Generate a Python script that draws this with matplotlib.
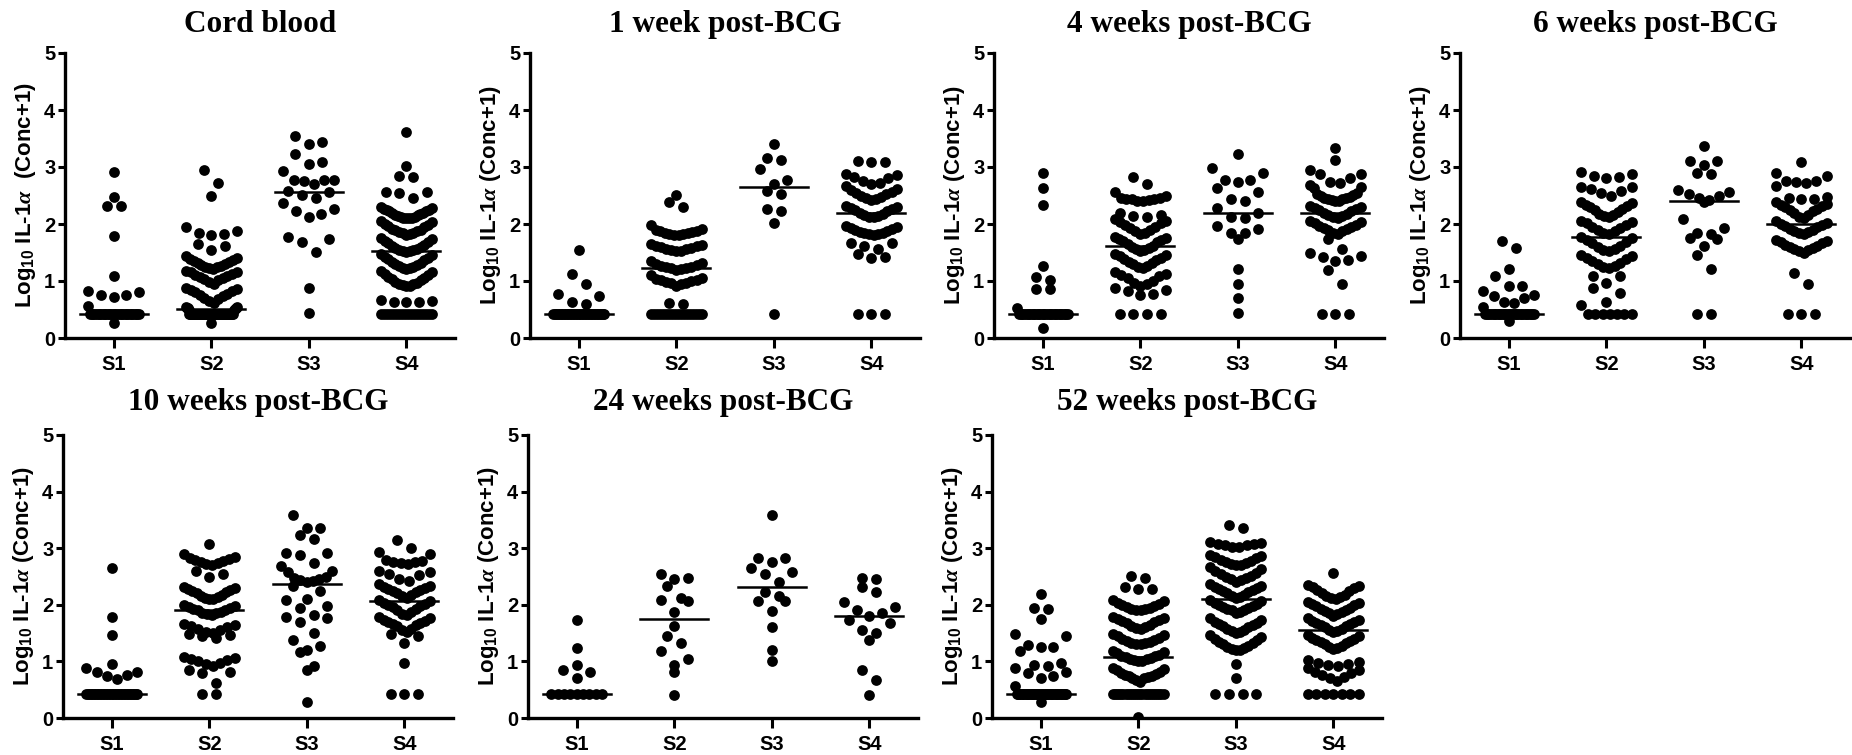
import numpy as np
import matplotlib
matplotlib.use("Agg")
import matplotlib.pyplot as plt

plt.rcParams["font.family"] = ["Liberation Sans", "DejaVu Sans"]
plt.rcParams["font.weight"] = "bold"
plt.rcParams["mathtext.fontset"] = "custom"
plt.rcParams["mathtext.rm"] = "Liberation Sans:bold"
plt.rcParams["mathtext.bf"] = "Liberation Sans:bold"
plt.rcParams["mathtext.it"] = "Liberation Serif:italic"

groups = ["S1", "S2", "S3", "S4"]
titles = ["Cord blood", "1 week post-BCG", "4 weeks post-BCG", "6 weeks post-BCG",
          "10 weeks post-BCG", "24 weeks post-BCG", "52 weeks post-BCG"]

# log10 IL-1a (conc+1), one list per stimulation group
cord_s1 = [2.92, 2.48, 2.32, 2.32, 1.79, 1.09, 0.83, 0.81, 0.75, 0.75, 0.72, 0.56, 0.26] + [0.42] * 30
cord_s2 = [2.94, 2.72, 2.49, 1.95, 1.88, 1.84, 1.82, 1.81, 1.65, 1.62, 1.54, 1.43, 1.40,
           1.38, 1.36, 1.35, 1.33, 1.31, 1.30, 1.28, 1.27, 1.25, 1.24, 1.22, 1.21,
           1.18, 1.16, 1.15, 1.13, 1.11, 1.09, 1.07, 1.05, 1.03, 1.01, 0.98, 0.95,
           0.88, 0.86, 0.84, 0.82, 0.80, 0.78, 0.76, 0.74, 0.71, 0.68, 0.65, 0.62,
           0.55, 0.54, 0.53, 0.52, 0.52, 0.51, 0.50, 0.50, 0.26] + [0.42] * 50
cord_s3 = [3.54, 3.43, 3.40, 3.22, 3.08, 3.05, 2.93, 2.78, 2.77, 2.77, 2.75, 2.71, 2.58, 2.57,
           2.51, 2.46, 2.36, 2.26, 2.22, 2.17, 2.12, 1.78, 1.73, 1.69, 1.51, 0.88, 0.43]
cord_s4 = [3.61, 3.02, 2.84, 2.83, 2.57, 2.57, 2.54, 2.45, 2.29, 2.25, 2.24, 2.22,
           2.28, 2.26, 2.23, 2.20, 2.19, 2.18, 2.16, 2.15, 2.14, 2.13, 2.12, 2.11, 2.11, 2.10, 2.10,
           2.05, 2.03, 2.00, 1.98, 1.96, 1.94, 1.92, 1.90, 1.89, 1.87, 1.86, 1.85, 1.84, 1.82, 1.81,
           1.76, 1.74, 1.71, 1.69, 1.66, 1.64, 1.62, 1.60, 1.58, 1.57, 1.55, 1.54, 1.53, 1.52, 1.51,
           1.47, 1.45, 1.42, 1.40, 1.38, 1.36, 1.34, 1.32, 1.30, 1.28, 1.26, 1.25, 1.23, 1.22, 1.21,
           1.17, 1.15, 1.12, 1.10, 1.07, 1.05, 1.03, 1.01, 0.99, 0.97, 0.95, 0.94, 0.93, 0.92, 0.91,
           0.66, 0.64, 0.63, 0.65, 0.64] + [0.42] * 18

w1_s1 = [1.55, 1.13, 0.95, 0.78, 0.74, 0.64, 0.60] + [0.42] * 35
w1_s2 = [2.51, 2.39, 2.29, 1.98,
         1.92, 1.90, 1.88, 1.87, 1.86, 1.85, 1.84, 1.83, 1.82, 1.81, 1.80,
         1.65, 1.64, 1.62, 1.61, 1.60, 1.58, 1.57, 1.56, 1.55, 1.53, 1.52,
         1.35, 1.32, 1.30, 1.28, 1.27, 1.25, 1.24, 1.23, 1.22, 1.21, 1.20,
         1.10, 1.06, 1.04, 1.02, 1.01, 1.00, 0.98, 0.97, 0.96, 0.94, 0.92,
         0.62, 0.60] + [0.42] * 18
w1_s3 = [3.40, 3.15, 3.13, 2.96, 2.78, 2.71, 2.58, 2.53, 2.26, 2.22, 2.01, 0.42]
w1_s4 = [3.10, 3.09, 3.08,
         2.88, 2.86, 2.82, 2.80, 2.75, 2.72, 2.71,
         2.66, 2.62, 2.59, 2.57, 2.55, 2.52, 2.50, 2.48, 2.46, 2.44, 2.42,
         2.32, 2.30, 2.28, 2.26, 2.24, 2.22, 2.20, 2.18, 2.16, 2.14, 2.13, 2.12,
         1.97, 1.95, 1.93, 1.91, 1.89, 1.88, 1.86, 1.85, 1.84, 1.83, 1.82, 1.80,
         1.67, 1.66, 1.62, 1.56, 1.47, 1.42, 1.40, 0.42, 0.42, 0.42]

w4_s1 = [2.89, 2.63, 2.33, 1.26, 1.07, 1.02, 0.86, 0.86, 0.53, 0.18] + [0.42] * 30
w4_s2 = [2.82, 2.70,
         2.57, 2.49, 2.46, 2.45, 2.44, 2.43, 2.43, 2.42, 2.41, 2.40,
         2.19, 2.16, 2.14, 2.12,
         2.08, 2.06, 2.03, 2.01, 1.98, 1.95, 1.93, 1.90, 1.88, 1.85, 1.82,
         1.78, 1.76, 1.74, 1.72, 1.70, 1.68, 1.65, 1.62, 1.60, 1.58, 1.56, 1.54, 1.52,
         1.48, 1.46, 1.43, 1.41, 1.38, 1.36, 1.34, 1.31, 1.29, 1.27, 1.24, 1.22,
         1.15, 1.12, 1.10, 1.08, 1.05, 1.00, 0.97, 0.94, 0.92,
         0.88, 0.85, 0.82, 0.78, 0.75] + [0.42] * 4
w4_s3 = [3.22, 2.98, 2.89, 2.78, 2.78, 2.73, 2.63, 2.57, 2.43, 2.40, 2.28, 2.20, 2.13, 2.10,
         1.96, 1.91, 1.84, 1.84, 1.74, 1.21, 0.94, 0.70, 0.44]
w4_s4 = [3.33, 3.13, 2.95, 2.87, 2.87, 2.81, 2.74, 2.72,
         2.68, 2.65, 2.63, 2.55, 2.53, 2.51, 2.49, 2.47, 2.46, 2.45, 2.44, 2.43, 2.42, 2.41, 2.40,
         2.32, 2.30, 2.28, 2.26, 2.24, 2.22, 2.20, 2.18, 2.16, 2.14, 2.12, 2.10,
         2.05, 2.03, 2.01, 1.99, 1.97, 1.95, 1.93, 1.91, 1.89, 1.87, 1.85, 1.82,
         1.73, 1.56, 1.49, 1.43, 1.42, 1.37, 1.35, 1.19, 0.94, 0.42, 0.42, 0.42]

w6_s1 = [1.70, 1.58, 1.21, 1.09, 0.91, 0.91, 0.82, 0.76, 0.73, 0.70, 0.64, 0.61, 0.55, 0.29] + [0.42] * 30
w6_s2 = [2.91, 2.88, 2.85, 2.82, 2.80,
         2.65, 2.65, 2.62, 2.58, 2.54, 2.50,
         2.38, 2.36, 2.34, 2.32, 2.30, 2.27, 2.24, 2.21, 2.18, 2.16, 2.14, 2.12,
         2.05, 2.03, 2.02, 1.98, 1.95, 1.93, 1.90, 1.87, 1.84, 1.82,
         1.78, 1.76, 1.72, 1.69, 1.66, 1.62, 1.59, 1.56, 1.54, 1.52,
         1.46, 1.44, 1.41, 1.38, 1.35, 1.32, 1.29, 1.26, 1.24, 1.22,
         1.09, 1.08, 0.96, 0.88, 0.79, 0.64, 0.58] + [0.42] * 7
w6_s3 = [3.36, 3.11, 3.10, 3.04, 2.89, 2.87, 2.60, 2.56, 2.52, 2.49, 2.46, 2.42, 2.38, 2.08, 1.93,
         1.84, 1.82, 1.75, 1.74, 1.61, 1.46, 1.21, 0.42, 0.42]
w6_s4 = [3.08, 2.89, 2.85, 2.75, 2.75, 2.73, 2.72,
         2.66, 2.48, 2.46, 2.44, 2.43,
         2.38, 2.35, 2.33, 2.31, 2.29, 2.27, 2.25, 2.22, 2.19, 2.16, 2.13, 2.11,
         2.05, 2.02, 2.00, 1.98, 1.96, 1.94, 1.92, 1.90, 1.88, 1.86, 1.84, 1.82,
         1.72, 1.70, 1.68, 1.66, 1.64, 1.62, 1.60, 1.58, 1.56, 1.54, 1.52, 1.50,
         1.14, 0.94, 0.42, 0.42, 0.42]

w10_s1 = [2.65, 1.79, 1.47, 0.95, 0.89, 0.82, 0.81, 0.76, 0.74, 0.69] + [0.42] * 35
w10_s2 = [3.07, 2.90, 2.85, 2.83, 2.81, 2.80, 2.78, 2.76, 2.74, 2.72, 2.70,
          2.60, 2.55, 2.50,
          2.32, 2.30, 2.28, 2.26, 2.24, 2.22, 2.20, 2.18, 2.16, 2.14, 2.12, 2.11, 2.10,
          2.00, 1.98, 1.96, 1.94, 1.92, 1.91, 1.90, 1.88, 1.86, 1.85, 1.83, 1.82,
          1.66, 1.64, 1.62, 1.60, 1.57, 1.55, 1.52, 1.50,
          1.48, 1.46, 1.44, 1.42,
          1.08, 1.06, 1.04, 1.02, 1.00, 0.97, 0.95, 0.92,
          0.85, 0.82, 0.79, 0.62, 0.42, 0.42]
w10_s3 = [3.59, 3.35, 3.35, 3.24, 3.16, 2.92, 2.91, 2.88, 2.74, 2.69, 2.60, 2.58, 2.49, 2.47, 2.45,
          2.44, 2.42, 2.40, 2.33, 2.25, 2.11, 2.08, 1.98, 1.95, 1.82, 1.79, 1.76, 1.70, 1.50, 1.38,
          1.27, 1.20, 1.17, 0.91, 0.84, 0.28]
w10_s4 = [3.15, 3.00, 2.94, 2.90, 2.80, 2.78, 2.76, 2.75, 2.74, 2.72,
          2.60, 2.58, 2.55, 2.52, 2.45, 2.42,
          2.36, 2.34, 2.32, 2.30, 2.28, 2.26, 2.24, 2.22, 2.20, 2.18, 2.15, 2.12,
          2.08, 2.06, 2.04, 2.02, 2.00, 1.98, 1.96, 1.93, 1.90, 1.87, 1.84, 1.82,
          1.78, 1.76, 1.74, 1.72, 1.70, 1.68, 1.66, 1.64, 1.62, 1.58, 1.55, 1.52,
          1.48, 1.45, 1.32, 0.98, 0.42, 0.42, 0.42]

w24_s1 = [1.74, 1.24, 0.94, 0.84, 0.82, 0.71] + [0.42] * 9
w24_s2 = [2.55, 2.47, 2.45, 2.34, 2.12, 2.08, 2.06, 1.87, 1.63, 1.44, 1.32, 1.19, 1.04, 0.94, 0.81, 0.41]
w24_s3 = [3.58, 2.82, 2.82, 2.75, 2.65, 2.58, 2.54, 2.41, 2.22, 2.15, 2.06, 2.06, 1.89, 1.60, 1.21, 1.00]
w24_s4 = [2.47, 2.45, 2.31, 2.22, 2.05, 1.96, 1.91, 1.86, 1.80, 1.74, 1.68, 1.56, 1.50, 1.38, 0.85, 0.68, 0.41]

w52_s1 = [2.19, 1.94, 1.92, 1.75, 1.48, 1.44, 1.29, 1.25, 1.25, 1.18, 0.97, 0.94, 0.92, 0.89, 0.82,
          0.79, 0.74, 0.71, 0.56, 0.28] + [0.42] * 40
w52_s2 = [2.51, 2.47, 2.31, 2.28, 2.28,
          2.08, 2.06, 2.04, 2.02, 2.00, 1.98, 1.96, 1.94, 1.93, 1.92, 1.91, 1.90,
          1.79, 1.77, 1.75, 1.73, 1.71, 1.69, 1.67, 1.65, 1.63, 1.61, 1.59, 1.58,
          1.48, 1.46, 1.44, 1.42, 1.40, 1.38, 1.36, 1.34, 1.33, 1.32, 1.31, 1.30,
          1.18, 1.16, 1.14, 1.12, 1.10, 1.09, 1.08, 1.06, 1.05, 1.04, 1.03, 1.01, 1.00,
          0.88, 0.86, 0.84, 0.82, 0.80, 0.78, 0.76, 0.75, 0.74, 0.72, 0.71, 0.70, 0.67, 0.64,
          0.02] + [0.42] * 25
w52_s3 = [3.41, 3.35,
          3.11, 3.10, 3.08, 3.07, 3.06, 3.05, 3.03, 3.02,
          2.88, 2.86, 2.84, 2.82, 2.80, 2.78, 2.76, 2.74, 2.72, 2.71, 2.70,
          2.66, 2.63, 2.60, 2.57, 2.54, 2.51, 2.49, 2.47, 2.45, 2.43, 2.41,
          2.36, 2.34, 2.32, 2.30, 2.28, 2.26, 2.24, 2.22, 2.20, 2.18, 2.16, 2.14, 2.12,
          2.08, 2.06, 2.04, 2.02, 2.00, 1.98, 1.96, 1.94, 1.92, 1.91, 1.90, 1.88, 1.86,
          1.76, 1.73, 1.70, 1.68, 1.66, 1.64, 1.62, 1.60, 1.58, 1.56, 1.54, 1.52, 1.50,
          1.46, 1.43, 1.40, 1.37, 1.35, 1.33, 1.30, 1.28, 1.26, 1.24, 1.22, 1.21, 1.20,
          0.95, 0.71] + [0.42] * 4
w52_s4 = [2.56,
          2.35, 2.33, 2.31, 2.29, 2.27, 2.25, 2.20, 2.18, 2.16, 2.14, 2.12, 2.10,
          2.05, 2.03, 2.01, 1.99, 1.97, 1.95, 1.93, 1.91, 1.89, 1.87, 1.85, 1.83, 1.81,
          1.76, 1.74, 1.72, 1.70, 1.68, 1.66, 1.64, 1.62, 1.60, 1.58, 1.56, 1.54, 1.52,
          1.46, 1.44, 1.42, 1.40, 1.38, 1.36, 1.34, 1.32, 1.30, 1.28, 1.26, 1.24, 1.22,
          1.03, 0.99, 0.97, 0.95, 0.93, 0.91,
          0.88, 0.85, 0.82, 0.79, 0.76, 0.73, 0.70, 0.66] + [0.42] * 7

panels = [
    [cord_s1, cord_s2, cord_s3, cord_s4],
    [w1_s1, w1_s2, w1_s3, w1_s4],
    [w4_s1, w4_s2, w4_s3, w4_s4],
    [w6_s1, w6_s2, w6_s3, w6_s4],
    [w10_s1, w10_s2, w10_s3, w10_s4],
    [w24_s1, w24_s2, w24_s3, w24_s4],
    [w52_s1, w52_s2, w52_s3, w52_s4],
]


# prism-like scatter: values binned in y, each bin spread sideways,
# lowest value in the middle so the rows come out as little V's
def spread_x(vals, center, binw=0.3, step=0.14, half=0.26):
    vals = np.asarray(vals, dtype=float)
    xs = np.full(len(vals), float(center))
    bins = np.floor(vals / binw)
    for b in np.unique(bins):
        idx = np.where(bins == b)[0]
        idx = idx[np.argsort(vals[idx], kind="stable")]
        n = len(idx)
        if n < 2:
            continue
        s = min(step, 2 * half / (n - 1))
        offs = (np.arange(n) - (n - 1) / 2) * s
        order = sorted(range(n), key=lambda k: (round(abs(offs[k]), 6), -offs[k]))
        for i, k in enumerate(order):
            xs[idx[i]] = center + offs[k]
    return xs


W, H = 1852, 755
fig = plt.figure(figsize=(W / 100, H / 100), dpi=100)

lefts = [65, 530, 994, 1460, 63, 528, 992]
tops = [53, 53, 53, 53, 435, 435, 435]
bottoms = [338, 338, 338, 338, 718, 718, 718]
title_pads = [15, 15, 15, 15, 18, 18, 18]

for i, (title, data) in enumerate(zip(titles, panels)):
    l, t, b = lefts[i], tops[i], bottoms[i]
    ax = fig.add_axes([l / W, 1 - b / H, 390 / W, (b - t) / H])
    for j, vals in enumerate(data):
        c = j + 1
        ax.scatter(spread_x(vals, c), vals, s=60, c="black", linewidths=0, zorder=3)
        med = np.median(vals)
        ax.plot([c - 0.35, c + 0.35], [med, med], color="black", lw=1.8, zorder=4)

    ax.set_xlim(0.5, 4.5)
    ax.set_ylim(0, 5)
    ax.set_xticks([1, 2, 3, 4])
    ax.set_xticklabels(groups)
    ax.set_yticks([0, 1, 2, 3, 4, 5])
    for side in ["top", "right"]:
        ax.spines[side].set_visible(False)
    for side in ["left", "bottom"]:
        ax.spines[side].set_linewidth(2.4)
    ax.tick_params(axis="y", length=5, width=2.2, pad=2, labelsize=14.5)
    ax.tick_params(axis="x", length=7, width=2.2, pad=5, labelsize=14.5)

    gap = "  " if i == 0 else " "
    ax.set_ylabel("Log$_{10}$ IL-1$\\alpha$" + gap + "(Conc+1)", fontsize=16, fontweight="bold")
    ax.yaxis.set_label_coords(-27 / 390, 0.5)
    ax.set_title(title, fontfamily="Liberation Serif", fontweight="bold",
                 fontsize=22.5, pad=title_pads[i])

fig.savefig("out.png", dpi=100)
